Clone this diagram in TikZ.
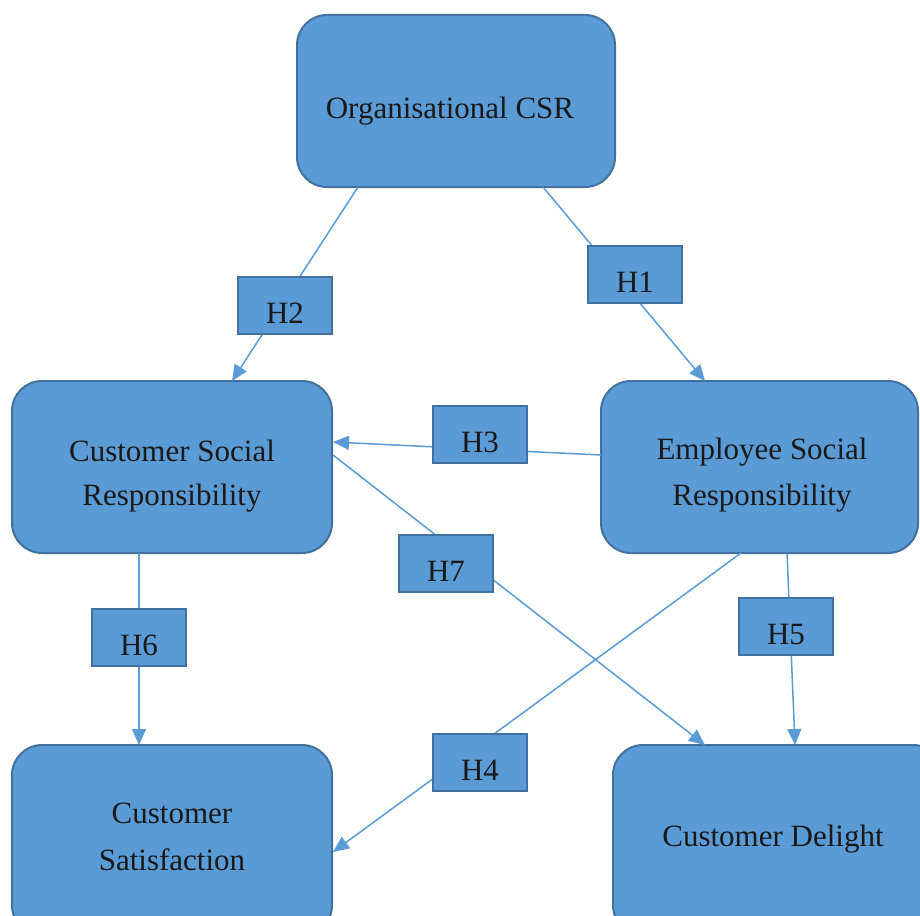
\documentclass[tikz,border=0pt]{standalone}
\usepackage{fontspec}
\setmainfont{Liberation Serif}
\usetikzlibrary{arrows.meta}
\definecolor{boxfill}{HTML}{5B9BD5}
\definecolor{boxline}{HTML}{41719C}
\definecolor{conn}{HTML}{5B9BD5}
\tikzset{
  mainbox/.style={draw=boxline, fill=boxfill, line width=2pt, rounded corners=30pt, inner sep=0pt},
  boxtext/.style={anchor=base, inner sep=0pt, font=\fontsize{31}{37}\selectfont, text=black!90},
  hbox/.style={draw=boxline, fill=boxfill, line width=2pt, minimum width=94pt,
    minimum height=57pt, inner sep=0pt},
  link/.style={draw=conn, line width=1.5pt, -{Triangle[length=16pt,width=14pt]}}
}
\begin{document}
\begin{tikzpicture}[x=1pt,y=-1pt]
\useasboundingbox (0,0) rectangle (920,915);
\fill[white] (0,0) rectangle (920,915);
\clip (0,0) rectangle (920,915);
% main boxes
\node[mainbox, minimum width=318pt, minimum height=172pt] (org) at (456,101) {};
\node[mainbox, minimum width=320pt, minimum height=172pt] (csr) at (172,467) {};
\node[mainbox, minimum width=317pt, minimum height=172pt] (esr) at (759.5,467) {};
\node[mainbox, minimum width=320pt, minimum height=190pt] (csat) at (172,840) {};
\node[mainbox, minimum width=330pt, minimum height=190pt] (cdel) at (778,840) {};
% box texts
\node[boxtext] (orgt) at (450,119) {Organisational CSR};
\node[boxtext] (csrt1) at (172,461) {Customer Social};
\node[boxtext] (csrt2) at (172,505) {Responsibility};
\node[boxtext] (esrt1) at (762,459) {Employee Social};
\node[boxtext] (esrt2) at (762,505) {Responsibility};
\node[boxtext] (csatt1) at (172,823) {Customer};
\node[boxtext] (csatt2) at (172,870) {Satisfaction};
\node[boxtext] (cdelt) at (773,846) {Customer Delight};
% connector end points
\coordinate (p2a) at (358,187);   \coordinate (p2b) at (232,381);
\coordinate (p1a) at (543,187);   \coordinate (p1b) at (705,381);
\coordinate (p3a) at (601,455);   \coordinate (p3b) at (333,442);
\coordinate (p7a) at (333,455);   \coordinate (p7b) at (705,745);
\coordinate (p6a) at (139,553);   \coordinate (p6b) at (139,745);
\coordinate (p5a) at (787,553);   \coordinate (p5b) at (795,745);
\coordinate (p4a) at (741,553);   \coordinate (p4b) at (333,852);
% connectors
\draw[link] (p2a) -- (p2b);
\draw[link] (p1a) -- (p1b);
\draw[link] (p3a) -- (p3b);
\draw[link] (p7a) -- (p7b);
\draw[link] (p6a) -- (p6b);
\draw[link] (p5a) -- (p5b);
\draw[link] (p4a) -- (p4b);
% hypothesis labels
\node[hbox] (h2) at (285,305.5) {};
\node[hbox] (h1) at (635,274.5) {};
\node[hbox] (h3) at (480,434.5) {};
\node[hbox] (h7) at (446,563) {};
\node[hbox] (h6) at (139,637.5) {};
\node[hbox] (h5) at (786,626.5) {};
\node[hbox] (h4) at (480,762) {};
\node[boxtext] (h2t) at (285,323.5) {H2};
\node[boxtext] (h1t) at (635,292.5) {H1};
\node[boxtext] (h3t) at (480,452.5) {H3};
\node[boxtext] (h7t) at (446,581) {H7};
\node[boxtext] (h6t) at (139,655.5) {H6};
\node[boxtext] (h5t) at (786,644.5) {H5};
\node[boxtext] (h4t) at (480,780) {H4};
\end{tikzpicture}
\end{document}
